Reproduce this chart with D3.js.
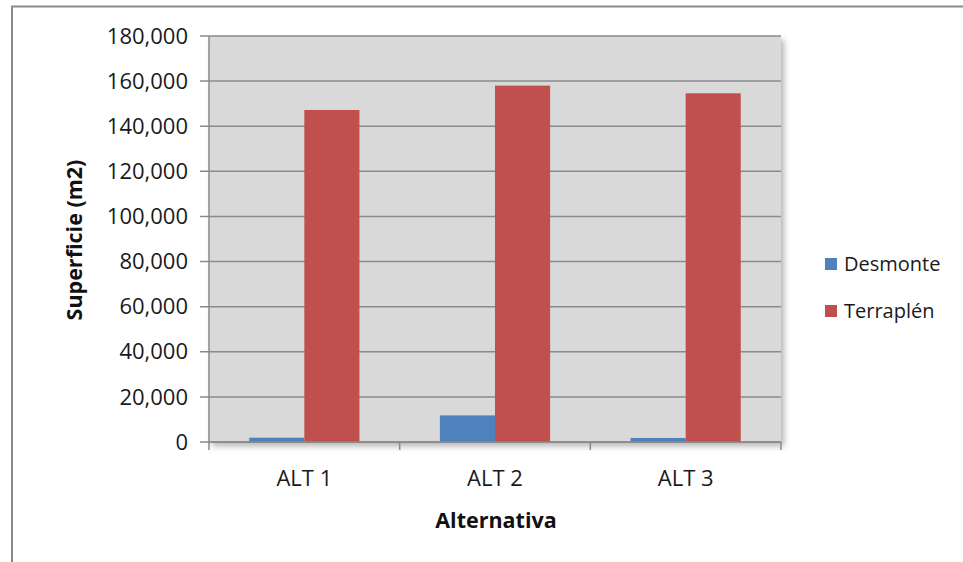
<!DOCTYPE html>
<html><head><meta charset="utf-8">
<script src="https://cdn.jsdelivr.net/npm/d3@7"></script>
<style>body{margin:0;background:#fff;}svg{display:block;font-family:"Open Sans","Liberation Sans",sans-serif;}</style>
</head><body>
<svg id="c" width="963" height="562"></svg>
<script>
const categories = ["ALT 1", "ALT 2", "ALT 3"];
const seriesNames = ["Desmonte", "Terraplén"];
const desmonte = [1900, 11800, 1800];
const terraplen = [147200, 158000, 154600];
const yTicks = [0, 20000, 40000, 60000, 80000, 100000, 120000, 140000, 160000, 180000];
const colors = ["#4f81bd", "#c0504d"];

const svg = d3.select("#c");
const m = {left: 209, top: 36, right: 781, bottom: 442};

// outer border
svg.append("path").attr("d", `M12,580 V6.5 H980`).attr("fill","none").attr("stroke","#8c8c8c").attr("stroke-width",2);

// shadow
const defs = svg.append("defs");
const f = defs.append("filter").attr("id","sh").attr("x","-5%").attr("y","-5%").attr("width","115%").attr("height","115%");
f.append("feDropShadow").attr("dx",3).attr("dy",4).attr("stdDeviation",3).attr("flood-color","#000").attr("flood-opacity",0.3);

const x = d3.scaleBand().domain(categories).range([m.left, m.right]);
const x1 = d3.scaleBand().domain(seriesNames).range([0, x.bandwidth()]).paddingInner(0).paddingOuter(0.73);
const y = d3.scaleLinear().domain([0, 180000]).range([m.bottom, m.top]);

svg.append("rect").attr("x", m.left).attr("y", m.top).attr("width", m.right-m.left).attr("height", m.bottom-m.top)
  .attr("fill","#d9d9d9").attr("filter","url(#sh)");

// gridlines
svg.append("g").selectAll("line").data(yTicks).join("line")
  .attr("x1", 200).attr("x2", m.right).attr("y1", d=>y(d)).attr("y2", d=>y(d))
  .attr("stroke","#8a8a8a").attr("stroke-width",1.5);

// y axis line
svg.append("line").attr("x1",m.left).attr("x2",m.left).attr("y1",m.top).attr("y2",m.bottom).attr("stroke","#8a8a8a").attr("stroke-width",1.5);

// bars
const data = seriesNames.map((s,i)=>({name:s, values: i===0?desmonte:terraplen}));
data.forEach((s,si)=>{
  svg.append("g").selectAll("rect").data(s.values).join("rect")
    .attr("x",(d,i)=>x(categories[i])+x1(s.name))
    .attr("width", x1.bandwidth())
    .attr("y", d=>y(d)).attr("height", d=>y(0)-y(d))
    .attr("fill", colors[si]);
});

// x-axis ticks
const bounds = [m.left, ...categories.map(c=>x(c)+x.bandwidth())];
svg.append("g").selectAll("line").data(bounds).join("line")
  .attr("x1",d=>d).attr("x2",d=>d).attr("y1",m.bottom).attr("y2",m.bottom+8)
  .attr("stroke","#8a8a8a").attr("stroke-width",1.5);
svg.append("line").attr("x1",m.left).attr("x2",m.right).attr("y1",m.bottom).attr("y2",m.bottom).attr("stroke","#8a8a8a").attr("stroke-width",1.5);

// y tick labels
const fmt = d3.format(",");
svg.append("g").selectAll("text").data(yTicks).join("text")
  .attr("x",188).attr("y",d=>y(d)).attr("dy","0.35em").attr("text-anchor","end")
  .attr("font-size",22).attr("fill","#1a1a1a").text(d=>fmt(d));

// x labels
svg.append("g").selectAll("text").data(categories).join("text")
  .attr("x",d=>x(d)+x.bandwidth()/2).attr("y",478).attr("dy","0.35em").attr("text-anchor","middle")
  .attr("font-size",22).attr("fill","#1a1a1a").text(d=>d);

// axis titles
svg.append("text").attr("transform","translate(74,240) rotate(-90)").attr("text-anchor","middle").attr("dy","0.35em")
  .attr("font-size",21.5).attr("font-weight","bold").attr("fill","#111").text("Superficie (m2)");
svg.append("text").attr("x",496).attr("y",520).attr("dy","0.35em").attr("text-anchor","middle")
  .attr("font-size",21.5).attr("font-weight","bold").attr("fill","#111").text("Alternativa");

// legend
const lg = svg.append("g").selectAll("g").data(seriesNames).join("g")
  .attr("transform",(d,i)=>`translate(825,${264+i*47})`);
lg.append("rect").attr("x",0).attr("y",-6).attr("width",12).attr("height",12).attr("fill",(d,i)=>colors[i]);
lg.append("text").attr("x",19).attr("y",0).attr("dy","0.35em").attr("font-size",20).attr("fill","#1a1a1a").text(d=>d);
</script>
</body></html>
